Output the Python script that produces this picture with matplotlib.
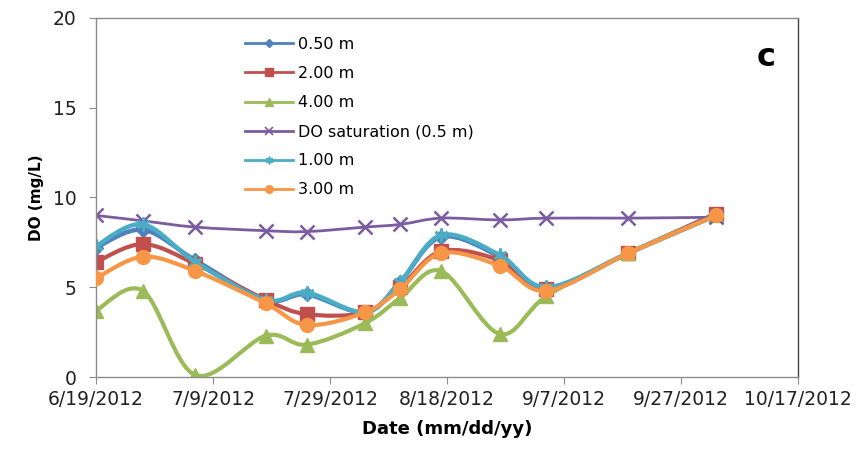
import datetime as dt
import numpy as np
import matplotlib
matplotlib.use('Agg')
import matplotlib.pyplot as plt
import matplotlib.dates as mdates
from matplotlib.path import Path
from matplotlib.patches import PathPatch
from matplotlib.lines import Line2D
from matplotlib.ticker import FuncFormatter

# sampling dates (2012)
dates = ['2012-06-19', '2012-06-27', '2012-07-06', '2012-07-18', '2012-07-25', '2012-08-04',
         '2012-08-10', '2012-08-17', '2012-08-27', '2012-09-04', '2012-09-18', '2012-10-03']

# dissolved oxygen (mg/L) by depth
do_050 = [7.2, 8.2, 6.5, 4.3, 4.6, 3.6, 5.3, 7.8, 6.7, 4.9, 6.9, 9.1]
do_200 = [6.4, 7.4, 6.3, 4.3, 3.5, 3.6, 5.0, 7.0, 6.5, 4.9, 6.9, 9.1]
do_400 = [3.7, 4.8, 0.1, 2.3, 1.8, 3.0, 4.4, 5.9, 2.4, 4.5, 6.9, 9.0]
do_sat = [9.0, 8.7, 8.35, 8.15, 8.1, 8.35, 8.5, 8.85, 8.75, 8.85, 8.85, 8.9]
do_100 = [7.3, 8.5, 6.4, 4.3, 4.7, 3.6, 5.3, 7.9, 6.8, 5.0, 6.9, 9.0]
do_300 = [5.5, 6.7, 5.9, 4.1, 2.9, 3.6, 4.9, 6.9, 6.2, 4.8, 6.9, 9.0]

labels = ['0.50 m', '2.00 m', '4.00 m', 'DO saturation (0.5 m)', '1.00 m', '3.00 m']
xtick_dates = ['2012-06-19', '2012-07-09', '2012-07-29', '2012-08-18',
               '2012-09-07', '2012-09-27', '2012-10-17']


def smooth_path(x, y):
    # Bezier curve through the points, like Excel's "smoothed line"
    p = np.column_stack([x, y])
    n = len(p)
    verts = [p[0]]
    codes = [Path.MOVETO]
    for i in range(n - 1):
        p0 = p[max(i - 1, 0)]
        p3 = p[min(i + 2, n - 1)]
        c1 = p[i] + (p[i + 1] - p0) / 6.0
        c2 = p[i + 1] - (p3 - p[i]) / 6.0
        verts += [c1, c2, p[i + 1]]
        codes += [Path.CURVE4] * 3
    return Path(verts, codes)


x = mdates.date2num([dt.datetime.strptime(d, '%Y-%m-%d') for d in dates])
series = [do_050, do_200, do_400, do_sat, do_100, do_300]
colors = ['#4F81BD', '#C0504D', '#9BBB59', '#7B5CA0', '#4BACC6', '#F79646']
markers = ['D', 's', '^', 'x', (6, 2, 0), 'o']
msizes = [7, 9.5, 10, 10, 10, 10]
widths = [3.2, 3.0, 3.0, 2.0, 3.2, 3.0]

fig = plt.figure(figsize=(8.62, 4.54), dpi=100)
ax = fig.add_axes([0.1114, 0.1696, 0.8144, 0.7908])

handles = []
for i, (vals, c, m, ms, lw, lab) in enumerate(zip(series, colors, markers, msizes, widths, labels)):
    z = 2 + i * 0.1
    ax.add_patch(PathPatch(smooth_path(x, vals), fill=False, edgecolor=c, lw=lw,
                           capstyle='round', joinstyle='round', zorder=z))
    mew = 1.8 if m in ('x', (6, 2, 0)) else 1
    ax.plot(x, vals, ls='none', marker=m, ms=ms, color=c, mec=c, mew=mew, zorder=z + 0.05)
    handles.append(Line2D([], [], color=c, lw=2, marker=m, ms=ms * 0.55, mec=c,
                          mew=1.2 if mew > 1 else 1, label=lab))

ax.set_xlim(mdates.date2num(dt.datetime(2012, 6, 19)), mdates.date2num(dt.datetime(2012, 10, 17)))
ax.set_ylim(0, 20)
ax.set_yticks([0, 5, 10, 15, 20])
ax.set_xticks(mdates.date2num([dt.datetime.strptime(d, '%Y-%m-%d') for d in xtick_dates]))
ax.xaxis.set_major_formatter(FuncFormatter(
    lambda v, pos: '{d.month}/{d.day}/{d.year}'.format(d=mdates.num2date(v))))

for s in ax.spines.values():
    s.set_color('#8c8c8c')
    s.set_linewidth(1.0)
ax.spines['right'].set_color('#444444')

ax.tick_params(axis='both', direction='out', length=5, color='#8c8c8c', labelsize=13.5,
               labelcolor='#222222')
ax.tick_params(axis='y', pad=9)
ax.tick_params(axis='x', pad=4)

ax.set_xlabel('Date (mm/dd/yy)', fontsize=13, fontweight='bold', labelpad=8)
ax.set_ylabel('DO (mg/L)', fontsize=11, fontweight='bold', labelpad=6)

ax.text(0.954, 0.89, 'c', transform=ax.transAxes, fontsize=23, fontweight='bold',
        ha='center', va='center')

ax.legend(handles=handles, loc='upper left', bbox_to_anchor=(0.212, 0.947), frameon=False,
          fontsize=11.5, borderpad=0, handlelength=3.0, handletextpad=0.35, labelspacing=0.88,
          borderaxespad=0)

fig.savefig('out.png', dpi=100)
